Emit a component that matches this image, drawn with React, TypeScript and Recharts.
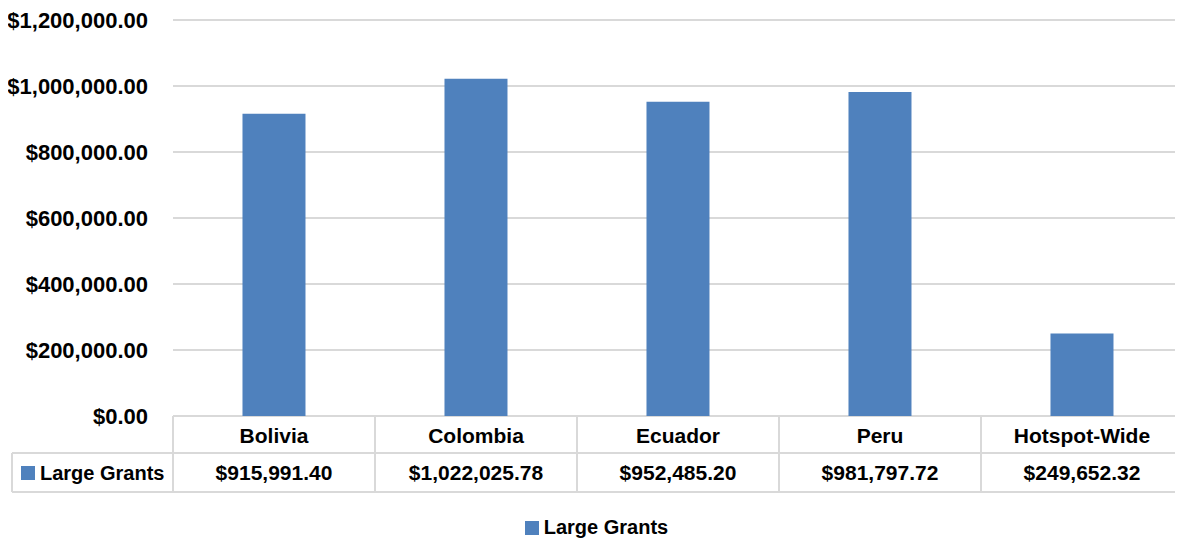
import { Bar, BarChart, CartesianGrid, Legend, XAxis, YAxis } from "recharts";

const categories = ["Bolivia", "Colombia", "Ecuador", "Peru", "Hotspot-Wide"];
const largeGrants = [915991.4, 1022025.78, 952485.2, 981797.72, 249652.32];
const yTicks = [0, 200000, 400000, 600000, 800000, 1000000, 1200000];
const seriesName = "Large Grants";

const data = categories.map((name, i) => ({ name, value: largeGrants[i] }));

const W = 1183;
const H = 546;
const Y_AXIS_W = 173;
const ROW1 = 37;
const ROW2 = 39;
const LEGEND_H = 54;
const TABLE_LEFT = 12;
const BLUE = "#4f81bd";
const GRID = "#d9d9d9";
const FONT = "'Liberation Sans', Arial, sans-serif";
const FS = 21;

const money = (v: number) =>
  "$" +
  v.toLocaleString("en-US", { minimumFractionDigits: 2, maximumFractionDigits: 2 });

const band = (W - Y_AXIS_W) / categories.length;

const TableTick = (props: any) => {
  const { x, y, payload, index } = props;
  const left = x - band / 2;
  const right = x + band / 2;
  const value = largeGrants[index];
  return (
    <g>
      {index === 0 && (
        <g>
          <line x1={TABLE_LEFT} y1={y + ROW1} x2={left} y2={y + ROW1} stroke={GRID} strokeWidth={2} />
          <line x1={TABLE_LEFT} y1={y + ROW1 + ROW2} x2={left} y2={y + ROW1 + ROW2} stroke={GRID} strokeWidth={2} />
          <line x1={TABLE_LEFT} y1={y + ROW1} x2={TABLE_LEFT} y2={y + ROW1 + ROW2} stroke={GRID} strokeWidth={2} />
          <line x1={left} y1={y} x2={left} y2={y + ROW1 + ROW2} stroke={GRID} strokeWidth={2} />
          <rect x={TABLE_LEFT + 9} y={y + ROW1 + 13} width={14} height={14} fill={BLUE} />
          <text
            x={TABLE_LEFT + 28}
            y={y + ROW1 + ROW2 / 2}
            dominantBaseline="central"
            fontFamily={FONT}
            fontWeight="bold"
            fontSize={20}
            fill="#000"
          >
            {seriesName}
          </text>
        </g>
      )}
      <line x1={left} y1={y + ROW1} x2={right} y2={y + ROW1} stroke={GRID} strokeWidth={2} />
      <line x1={left} y1={y + ROW1 + ROW2} x2={right} y2={y + ROW1 + ROW2} stroke={GRID} strokeWidth={2} />
      <line x1={right} y1={y} x2={right} y2={y + ROW1 + ROW2} stroke={GRID} strokeWidth={2} />
      <text
        x={x}
        y={y + ROW1 / 2 + 1}
        textAnchor="middle"
        dominantBaseline="central"
        fontFamily={FONT}
        fontWeight="bold"
        fontSize={FS}
        fill="#000"
      >
        {payload.value}
      </text>
      <text
        x={x}
        y={y + ROW1 + ROW2 / 2}
        textAnchor="middle"
        dominantBaseline="central"
        fontFamily={FONT}
        fontWeight="bold"
        fontSize={FS}
        fill="#000"
      >
        {money(value)}
      </text>
    </g>
  );
};

const LegendContent = () => (
  <div
    style={{
      display: "flex",
      justifyContent: "center",
      alignItems: "center",
      paddingTop: 24,
      paddingLeft: 10,
      fontFamily: FONT,
      fontWeight: "bold",
      fontSize: 20,
      color: "#000",
    }}
  >
    <span style={{ width: 14, height: 14, background: BLUE, marginRight: 5, display: "inline-block" }} />
    <span>{seriesName}</span>
  </div>
);

export default function App() {
  return (
    <div style={{ margin: -8, width: W, height: H, background: "#fff" }}>
      <BarChart
        width={W}
        height={H}
        data={data}
        margin={{ top: 20, right: 0, bottom: 0, left: 0 }}
        barCategoryGap="34.4%"
      >
        <CartesianGrid vertical={false} stroke={GRID} strokeWidth={2} />
        <YAxis
          width={Y_AXIS_W}
          domain={[0, 1200000]}
          ticks={yTicks}
          tickFormatter={money}
          axisLine={false}
          tickLine={false}
          tickSize={0}
          tickMargin={25}
          tick={{ fontFamily: FONT, fontWeight: "bold", fontSize: 22, fill: "#000" }}
        />
        <XAxis
          dataKey="name"
          height={ROW1 + ROW2}
          axisLine={false}
          tickLine={false}
          tickSize={0}
          tickMargin={0}
          interval={0}
          tick={<TableTick />}
        />
        <Legend verticalAlign="bottom" height={LEGEND_H} content={<LegendContent />} />
        <Bar dataKey="value" name={seriesName} fill={BLUE} isAnimationActive={false} />
      </BarChart>
    </div>
  );
}
